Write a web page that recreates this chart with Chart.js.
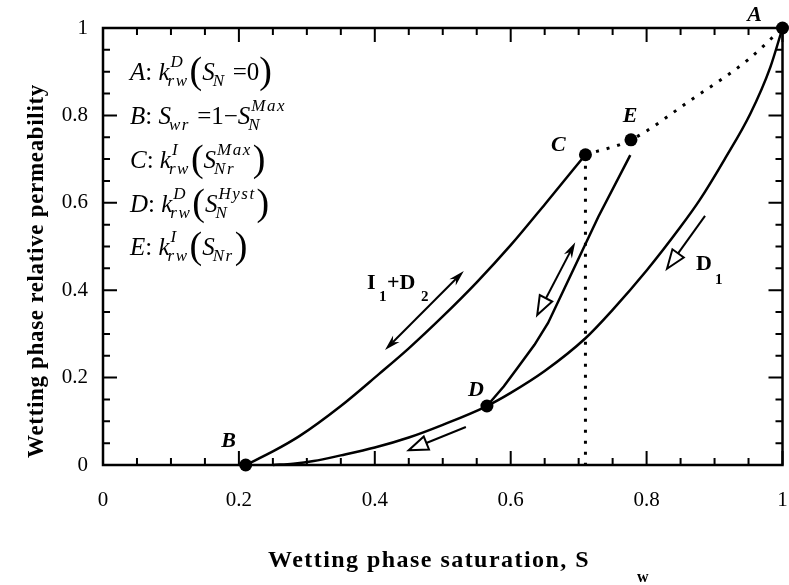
<!DOCTYPE html>
<html>
<head>
<meta charset="utf-8">
<script src="https://cdn.jsdelivr.net/npm/chart.js@4.4.1/dist/chart.umd.min.js"></script>
<style>
  html, body { margin: 0; padding: 0; background: #fff; }
  #chart { display: block; }
</style>
</head>
<body>
<canvas id="chart" width="789" height="585"></canvas>
<script>
const xTickLabels = ['0', '0.2', '0.4', '0.6', '0.8', '1'];
const yTickLabels = ['0', '0.2', '0.4', '0.6', '0.8', '1'];

// D1 : primary drainage curve (up to point A)
const drainSw = [0.25, 0.28, 0.31, 0.35, 0.40, 0.45, 0.50, 0.565, 0.60, 0.65, 0.71, 0.75, 0.80, 0.85, 0.878, 0.915, 0.953, 0.982, 1.0];
const drainKr = [0, 0.003, 0.009, 0.022, 0.04, 0.063, 0.092, 0.135, 0.165, 0.215, 0.29, 0.355, 0.445, 0.545, 0.606, 0.70, 0.805, 0.91, 1.0];

// I1 + D2 : B -> C
const imbSw = [0.21, 0.25, 0.289, 0.35, 0.406, 0.45, 0.50, 0.55, 0.60, 0.651, 0.71];
const imbKr = [0, 0.031, 0.066, 0.135, 0.208, 0.267, 0.34, 0.418, 0.503, 0.598, 0.71];

// scanning curve D -> E
const scanSw = [0.565, 0.59, 0.611, 0.635, 0.655, 0.69, 0.729, 0.776];
const scanKr = [0.135, 0.18, 0.224, 0.275, 0.325, 0.44, 0.568, 0.709];

// dotted C -> E -> A
const dotSw = [0.71, 0.777, 0.865, 0.949, 1.0];
const dotKr = [0.71, 0.744, 0.835, 0.927, 1.0];

// dotted vertical at C
const vertSw = [0.71, 0.71];
const vertKr = [0.71, 0];

// marked points
const ptNames = ['A', 'B', 'C', 'D', 'E'];
const ptSw = [1.0, 0.21, 0.71, 0.565, 0.777];
const ptKr = [1.0, 0, 0.71, 0.135, 0.744];

// direction arrows
const arrowFrom = [[0.531, 0.444], [0.695, 0.51], [0.534, 0.087], [0.886, 0.57]];
const arrowTo   = [[0.415, 0.263], [0.639, 0.343], [0.45, 0.034], [0.83, 0.449]];
const arrowHeads = [['fill', 'fill'], ['fill', 'open'], [null, 'open'], [null, 'open']];

function pairs(xs, ys) {
    return xs.map((x, i) => ({ x: x, y: ys[i] }));
}

const SERIF = '"Liberation Serif", "DejaVu Serif", serif';

function lineDs(xs, ys, dash, width, smooth) {
    return {
        data: pairs(xs, ys),
        showLine: true,
        borderColor: '#000',
        borderWidth: width,
        borderDash: dash,
        pointRadius: 0,
        tension: smooth ? 0.4 : 0,
        cubicInterpolationMode: smooth ? 'monotone' : 'default',
        fill: false,
        clip: false
    };
}

function spacedText(ctx, text, x, y, target) {
    ctx.letterSpacing = '0px';
    const w = ctx.measureText(text).width;
    const sp = (target - w) / text.length;
    ctx.letterSpacing = sp + 'px';
    ctx.fillText(text, x, y);
    ctx.letterSpacing = '0px';
}

// the definitions block, top left. m = main text, sup/sub = scripts, p = big bracket
const legendLines = [
    [{ m: 'A', i: 1 }, { m: ': ' }, { m: 'k', i: 1 }, { sup: 'D', sub: 'rw' }, { p: '(' }, { m: 'S', i: 1 }, { sub: 'N' }, { m: ' =0' }, { p: ')' }],
    [{ m: 'B', i: 1 }, { m: ': ' }, { m: 'S', i: 1 }, { sub: 'wr' }, { m: ' =1\u2212' }, { m: 'S', i: 1 }, { sup: 'Max', sub: 'N' }],
    [{ m: 'C', i: 1 }, { m: ': ' }, { m: 'k', i: 1 }, { sup: 'I', sub: 'rw' }, { p: '(' }, { m: 'S', i: 1 }, { sup: 'Max', sub: 'Nr' }, { p: ')' }],
    [{ m: 'D', i: 1 }, { m: ': ' }, { m: 'k', i: 1 }, { sup: 'D', sub: 'rw' }, { p: '(' }, { m: 'S', i: 1 }, { sup: 'Hyst', sub: 'N' }, { p: ')' }],
    [{ m: 'E', i: 1 }, { m: ': ' }, { m: 'k', i: 1 }, { sup: 'I', sub: 'rw' }, { p: '(' }, { m: 'S', i: 1 }, { sub: 'Nr' }, { p: ')' }]
];

function drawMathLine(ctx, parts, x, y) {
    parts.forEach(p => {
        if (p.m !== undefined) {
            ctx.letterSpacing = '0px';
            ctx.font = (p.i ? 'italic ' : '') + '25px ' + SERIF;
            ctx.fillText(p.m, x, y);
            x += ctx.measureText(p.m).width;
        } else if (p.p !== undefined) {
            ctx.letterSpacing = '0px';
            ctx.font = '38px ' + SERIF;
            ctx.fillText(p.p, x, y + 3);
            x += ctx.measureText(p.p).width;
        } else {
            ctx.font = 'italic 17px ' + SERIF;
            ctx.letterSpacing = '1.5px';
            let w = 0;
            if (p.sup) { ctx.fillText(p.sup, x + 1, y - 13); w = ctx.measureText(p.sup).width + 1; }
            if (p.sub) { ctx.fillText(p.sub, x - 2, y + 6); w = Math.max(w, ctx.measureText(p.sub).width - 2); }
            ctx.letterSpacing = '0px';
            x += w + 1;
        }
    });
}

function drawHead(ctx, tx, ty, ang, kind) {
    ctx.save();
    ctx.translate(tx, ty);
    ctx.rotate(ang);
    ctx.beginPath();
    if (kind === 'fill') {
        ctx.moveTo(0, 0);
        ctx.lineTo(-16, -4.5);
        ctx.lineTo(-11, 0);
        ctx.lineTo(-16, 4.5);
        ctx.closePath();
        ctx.fill();
    } else {
        ctx.moveTo(0, 0);
        ctx.lineTo(-19, -7);
        ctx.lineTo(-19, 7);
        ctx.closePath();
        ctx.fillStyle = '#fff';
        ctx.fill();
        ctx.stroke();
    }
    ctx.restore();
}

const decorations = {
    id: 'decorations',
    afterDatasetsDraw(chart) {
        const ctx = chart.ctx;
        const xs = chart.scales.x, ys = chart.scales.y;
        ctx.save();
        ctx.strokeStyle = '#000';
        ctx.fillStyle = '#000';
        ctx.lineWidth = 2;
        // arrows
        arrowFrom.forEach((f, i) => {
            const x1 = xs.getPixelForValue(f[0]), y1 = ys.getPixelForValue(f[1]);
            const x2 = xs.getPixelForValue(arrowTo[i][0]), y2 = ys.getPixelForValue(arrowTo[i][1]);
            const ang = Math.atan2(y2 - y1, x2 - x1);
            const heads = arrowHeads[i];
            const back = heads[1] === 'open' ? 19 : 11;
            const front = heads[0] === 'fill' ? 11 : 0;
            ctx.beginPath();
            ctx.moveTo(x1 + Math.cos(ang) * front, y1 + Math.sin(ang) * front);
            ctx.lineTo(x2 - Math.cos(ang) * back, y2 - Math.sin(ang) * back);
            ctx.stroke();
            ctx.fillStyle = '#000';
            if (heads[1]) drawHead(ctx, x2, y2, ang, heads[1]);
            ctx.fillStyle = '#000';
            if (heads[0]) drawHead(ctx, x1, y1, ang + Math.PI, heads[0]);
        });

        // point names
        const offs = { A: [-28, -13], B: [-17, -24], C: [-27, -9], D: [-11, -16], E: [-1, -24] };
        ctx.font = 'italic bold 22px ' + SERIF;
        ctx.textAlign = 'center';
        ctx.textBaseline = 'middle';
        ptNames.forEach((n, i) => {
            const px = xs.getPixelForValue(ptSw[i]) + offs[n][0];
            const py = ys.getPixelForValue(ptKr[i]) + offs[n][1];
            ctx.fillText(n, px, py);
        });

        // curve names
        ctx.textAlign = 'left';
        ctx.textBaseline = 'alphabetic';
        ctx.font = 'bold 22px ' + SERIF;
        ctx.fillText('I', 367, 289);
        ctx.fillText('+D', 387, 289);
        ctx.fillText('D', 696, 270);
        ctx.font = 'bold 15px ' + SERIF;
        ctx.fillText('1', 379, 301);
        ctx.fillText('2', 421, 301);
        ctx.fillText('1', 715, 284);
        ctx.restore();
    },
    afterDraw(chart) {
        const ctx = chart.ctx;
        const { left, right, top, bottom } = chart.chartArea;
        const xs = chart.scales.x, ys = chart.scales.y;
        ctx.save();
        ctx.strokeStyle = '#000';
        ctx.fillStyle = '#000';
        ctx.lineWidth = 2.5;
        ctx.strokeRect(left, top, right - left, bottom - top);

        // inward ticks on all four sides
        ctx.lineWidth = 2;
        ctx.beginPath();
        for (let i = 0; i <= 20; i++) {
            const v = i * 0.05;
            const len = (i % 4 === 0) ? 14 : 7;
            const X = xs.getPixelForValue(v), Y = ys.getPixelForValue(v);
            ctx.moveTo(X, bottom); ctx.lineTo(X, bottom - len);
            ctx.moveTo(X, top); ctx.lineTo(X, top + len);
            ctx.moveTo(left, Y); ctx.lineTo(left + len, Y);
            ctx.moveTo(right, Y); ctx.lineTo(right - len, Y);
        }
        ctx.stroke();

        // definitions block
        ctx.textAlign = 'left';
        ctx.textBaseline = 'alphabetic';
        const base = [80, 124, 168, 212, 255];
        legendLines.forEach((ln, i) => drawMathLine(ctx, ln, 130, base[i]));

        // axis titles
        ctx.font = 'bold 24px ' + SERIF;
        spacedText(ctx, 'Wetting phase saturation, S', 268, 567, 322);
        ctx.font = 'bold 16px ' + SERIF;
        ctx.fillText('w', 637, 582);

        ctx.save();
        ctx.translate(43, 271);
        ctx.rotate(-Math.PI / 2);
        ctx.font = 'bold 23px ' + SERIF;
        spacedText(ctx, 'Wetting phase relative permeability', -187, 0, 374);
        ctx.restore();
        ctx.restore();
    }
};

const chart = new Chart(document.getElementById('chart'), {
    type: 'scatter',
    data: {
        datasets: [
            lineDs(drainSw, drainKr, [], 2.5, true),
            lineDs(imbSw, imbKr, [], 2.5, true),
            lineDs(scanSw, scanKr, [], 2.5, false),
            lineDs(dotSw, dotKr, [3, 8], 3, true),
            lineDs(vertSw, vertKr, [3, 8], 3, false),
            {
                data: pairs(ptSw, ptKr),
                showLine: false,
                pointRadius: 6.5,
                pointBackgroundColor: '#000',
                pointBorderColor: '#000',
                pointBorderWidth: 0,
                clip: false
            }
        ]
    },
    options: {
        responsive: false,
        animation: false,
        events: [],
        layout: { padding: { top: 28, right: 4, left: 0, bottom: 0 } },
        plugins: { legend: { display: false }, tooltip: { enabled: false } },
        scales: {
            x: {
                type: 'linear',
                min: 0,
                max: 1,
                grid: { display: false, drawTicks: false },
                border: { display: false },
                ticks: {
                    stepSize: 0.2,
                    autoSkip: false,
                    maxRotation: 0,
                    padding: 23,
                    color: '#000',
                    font: { family: SERIF, size: 21 },
                    callback: (v, i) => xTickLabels[i]
                },
                afterFit(s) { s.height = 120; s.paddingLeft = 0; s.paddingRight = 0; }
            },
            y: {
                type: 'linear',
                min: 0,
                max: 1,
                grid: { display: false, drawTicks: false },
                border: { display: false },
                ticks: {
                    stepSize: 0.2,
                    autoSkip: false,
                    padding: 15,
                    color: '#000',
                    font: { family: SERIF, size: 21 },
                    callback: (v, i) => yTickLabels[i]
                },
                afterFit(s) { s.width = 103; s.paddingTop = 0; s.paddingBottom = 0; }
            }
        }
    },
    plugins: [decorations]
});
</script>
</body>
</html>
